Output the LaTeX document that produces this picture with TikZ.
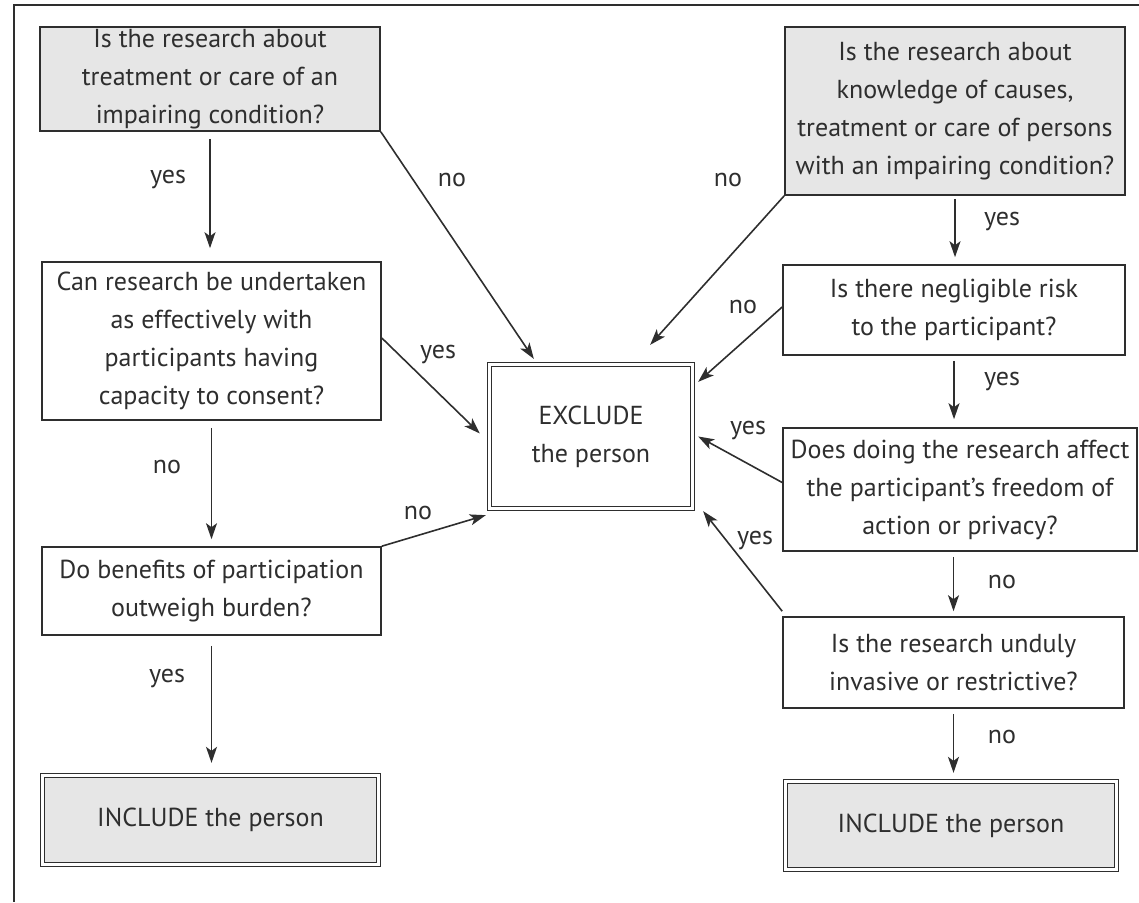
\documentclass[tikz,border=0pt]{standalone}
\usepackage{fontspec}
\setmainfont{PT Sans}
\usetikzlibrary{arrows.meta,calc}
\definecolor{ink}{HTML}{2E2E2E}
\definecolor{boxgray}{HTML}{E6E6E6}
\begin{document}
\begin{tikzpicture}[x=1pt,y=-1pt,
  q/.style={draw=ink, line width=1.6pt, text=ink, align=center, inner sep=0pt,
            font=\fontsize{26}{38}\selectfont},
  shaded/.style={fill=boxgray},
  dbl/.style={double=white, double distance=2.6pt, line width=1.3pt},
  arr/.style={draw=ink, line width=1.6pt, -{Stealth[length=16pt,width=11pt,inset=4pt]}},
  lbl/.style={text=ink, inner sep=0pt, font=\fontsize{26}{30}\selectfont},
  frame/.style={draw=ink, line width=1.6pt}]
\useasboundingbox (0,0) rectangle (1139,902);
\draw[frame] (1139,5) -- (14,5) -- (14,902);

% left column
\node[q,shaded,minimum width=340pt,minimum height=104pt] (A) at (210,79)
  {Is the research about\\treatment or care of an\\impairing condition?};
\node[q,minimum width=339pt,minimum height=158pt] (C) at (211.5,341)
  {Can research be undertaken\\as effectively with\\participants having\\capacity to consent?};
\node[q,minimum width=339pt,minimum height=88pt] (D) at (211.5,591)
  {Do benefits of participation\\outweigh burden?};
\node[q,shaded,dbl,minimum width=336pt,minimum height=89pt] (IL) at (210.5,820)
  {INCLUDE the person};

% centre
\node[q,dbl,minimum width=203pt,minimum height=144pt] (X) at (591,436.5)
  {EXCLUDE\\the person};

% right column
\node[q,shaded,minimum width=340pt,minimum height=168pt] (B) at (955,111)
  {Is the research about\\knowledge of causes,\\treatment or care of persons\\with an impairing condition?};
\node[q,minimum width=342pt,minimum height=90pt] (E) at (954,310)
  {Is there negligible risk\\to the participant?};
\node[q,minimum width=354pt,minimum height=123pt] (F) at (960,489.5)
  {Does doing the research affect\\the participant’s freedom of\\action or privacy?};
\node[q,minimum width=341pt,minimum height=91pt] (G) at (953.5,662.5)
  {Is the research unduly\\invasive or restrictive?};
\node[q,shaded,dbl,minimum width=331pt,minimum height=88pt] (IR) at (951,825.5)
  {INCLUDE the person};

% vertical connectors
\draw[arr] ([yshift=-7pt]A.south) -- ([yshift=13pt]A.south |- C.north);
\draw[arr] ([yshift=-7pt]C.south) -- ([yshift=7pt]C.south |- D.north);
\draw[arr] ([yshift=-10pt]D.south) -- ([yshift=12pt]D.south |- IL.north);
\draw[arr] ([yshift=-3pt]B.south) -- ([yshift=7pt]B.south |- E.north);
\draw[arr] ([yshift=-5pt]E.south) -- ([yshift=8pt]E.south |- F.north);
\draw[arr] ([yshift=-5pt]G.north |- F.south) -- ([yshift=5pt]G.north);
\draw[arr] ([yshift=-5pt]G.south) -- ([yshift=8pt]G.south |- IR.north);

% diagonal connectors to EXCLUDE
\draw[arr] (A.south east) -- ([xshift=45pt,yshift=5pt]X.north west);
\draw[arr] ([yshift=3pt]C.east) -- ([xshift=-9pt,yshift=3pt]X.west);
\draw[arr] (D.north east) -- ([xshift=-3pt,yshift=-6pt]X.south west);
\draw[arr] (B.south west) -- ([xshift=-43pt,yshift=19pt]X.north east);
\draw[arr] ([yshift=3pt]E.west) -- ([xshift=5pt,yshift=-18pt]X.north east);
\draw[arr] ([yshift=7pt]F.west) -- ([xshift=5pt]X.east);
\draw[arr] ([yshift=5pt]G.north west) -- ([xshift=10pt,yshift=-2pt]X.south east);

% labels
\node[lbl] (l1) at (168,180) {yes};
\node[lbl] (l2) at (167,467) {no};
\node[lbl] (l3) at (167,678) {yes};
\node[lbl] (l4) at (452,180) {no};
\node[lbl] (l5) at (438,355) {yes};
\node[lbl] (l6) at (418,513) {no};
\node[lbl] (l7) at (728,180) {no};
\node[lbl] (l8) at (1002,222) {yes};
\node[lbl] (l9) at (743,307) {no};
\node[lbl] (l10) at (1002,382) {yes};
\node[lbl] (l11) at (748,431) {yes};
\node[lbl] (l12) at (1002,582) {no};
\node[lbl] (l13) at (755,540) {yes};
\node[lbl] (l14) at (1002,737) {no};
\end{tikzpicture}
\end{document}
